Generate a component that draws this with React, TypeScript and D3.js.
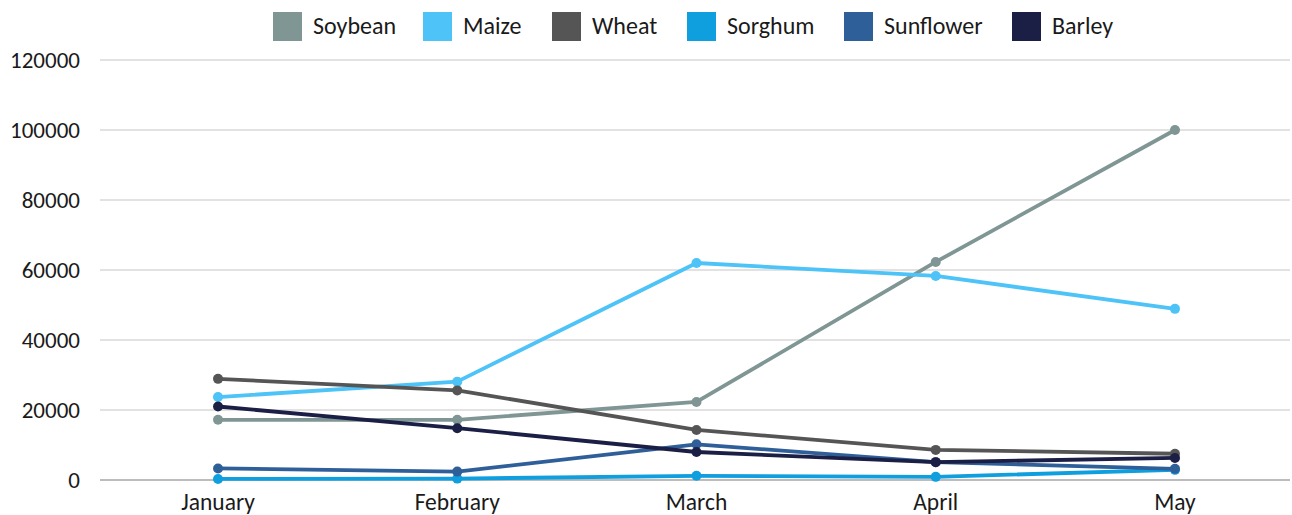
import React from "react";
import * as d3 from "d3";

const months = ["January", "February", "March", "April", "May"];
const seriesNames = ["Soybean", "Maize", "Wheat", "Sorghum", "Sunflower", "Barley"];
const soybean = [17200, 17200, 22300, 62300, 100000];
const maize = [23700, 28100, 62000, 58300, 48900];
const wheat = [28900, 25600, 14300, 8600, 7500];
const sorghum = [300, 400, 1200, 900, 2900];
const sunflower = [3300, 2400, 10200, 5100, 3200];
const barley = [21000, 14800, 8000, 5100, 6300];
const yTicks = [0, 20000, 40000, 60000, 80000, 100000, 120000];
const colors = ["#7f9694", "#4dc3f7", "#555555", "#0f9ede", "#2e5f99", "#1c1f45"];
const allSeries = [soybean, maize, wheat, sorghum, sunflower, barley];

const W = 1292;
const H = 515;
const font = "Carlito, Calibri, 'Open Sans', sans-serif";

export default function App() {
  const x = d3.scalePoint<string>().domain(months).range([98.4, 1294.6]).padding(0.5);
  const y = d3.scaleLinear().domain([0, 120000]).range([480, 60]);
  const line = d3
    .line<number>()
    .x((_, i) => x(months[i]) as number)
    .y((d) => y(d));

  const legendX = [273, 423, 552, 687, 844, 1012];

  return (
    <svg
      width={W}
      height={H}
      style={{ position: "absolute", left: 0, top: 0, background: "#fff" }}
      fontFamily={font}
    >
      {yTicks.map((t) =>
        t === 0 ? null : (
          <line key={t} x1={100} x2={1290} y1={y(t)} y2={y(t)} stroke="#d9d9d9" strokeWidth={1.3} />
        )
      )}
      <line x1={100} x2={1290} y1={y(0)} y2={y(0)} stroke="#a6a6a6" strokeWidth={1.3} />
      {yTicks.map((t) => (
        <text key={"l" + t} x={80} y={y(t)} dy="0.35em" textAnchor="end" fontSize={23} fill="#1a1a1a">
          {t}
        </text>
      ))}
      {months.map((m) => (
        <text key={m} x={x(m)} y={510} textAnchor="middle" fontSize={23.5} fill="#1a1a1a">
          {m}
        </text>
      ))}
      {allSeries.map((s, si) => (
        <g key={seriesNames[si]}>
          <path d={line(s) || ""} fill="none" stroke={colors[si]} strokeWidth={3.8} strokeLinejoin="round" />
          {s.map((v, i) => (
            <circle key={i} cx={x(months[i])} cy={y(v)} r={5} fill={colors[si]} />
          ))}
        </g>
      ))}
      {seriesNames.map((n, i) => (
        <g key={"lg" + n}>
          <rect x={legendX[i]} y={12} width={29} height={29} fill={colors[i]} />
          <text x={legendX[i] + 40} y={34} fontSize={24} fill="#1a1a1a">
            {n}
          </text>
        </g>
      ))}
    </svg>
  );
}
